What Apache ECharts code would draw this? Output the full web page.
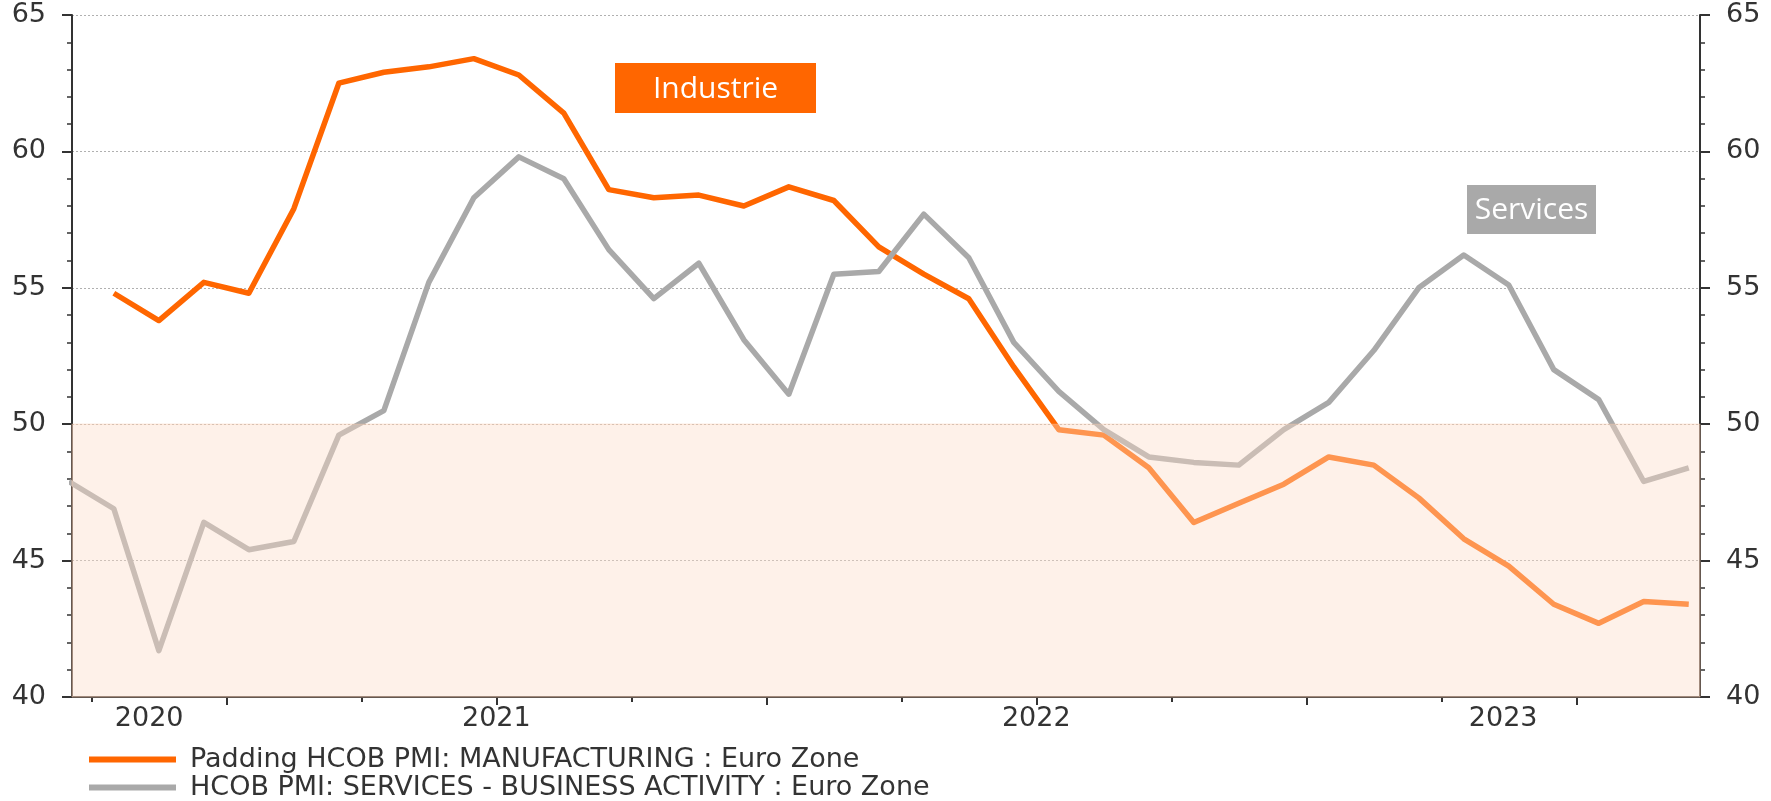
<!DOCTYPE html>
<html>
<head>
<meta charset="utf-8">
<script src="https://cdn.jsdelivr.net/npm/echarts@6/dist/echarts.min.js"></script>
<style>
html,body{margin:0;padding:0;background:#ffffff;}
#chart{width:1771px;height:801px;}
</style>
</head>
<body>
<div id="chart"></div>
<script>
// ---------- data ----------
const months = [
  '2020-09','2020-10','2020-11','2020-12',
  '2021-01','2021-02','2021-03','2021-04','2021-05','2021-06','2021-07','2021-08','2021-09','2021-10','2021-11','2021-12',
  '2022-01','2022-02','2022-03','2022-04','2022-05','2022-06','2022-07','2022-08','2022-09','2022-10','2022-11','2022-12',
  '2023-01','2023-02','2023-03','2023-04','2023-05','2023-06','2023-07','2023-08','2023-09'
];
const manufacturing = [
  null, 54.8, 53.8, 55.2,
  54.8, 57.9, 62.5, 62.9, 63.1, 63.4, 62.8, 61.4, 58.6, 58.3, 58.4, 58.0,
  58.7, 58.2, 56.5, 55.5, 54.6, 52.1, 49.8, 49.6, 48.4, 46.4, 47.1, 47.8,
  48.8, 48.5, 47.3, 45.8, 44.8, 43.4, 42.7, 43.5, 43.4
];
const services = [
  47.9, 46.9, 41.7, 46.4,
  45.4, 45.7, 49.6, 50.5, 55.2, 58.3, 59.8, 59.0, 56.4, 54.6, 55.9, 53.1,
  51.1, 55.5, 55.6, 57.7, 56.1, 53.0, 51.2, 49.8, 48.8, 48.6, 48.5, 49.8,
  50.8, 52.7, 55.0, 56.2, 55.1, 52.0, 50.9, 47.9, 48.4
];
const seriesNames = [
  'Padding HCOB PMI: MANUFACTURING : Euro Zone',
  'HCOB PMI: SERVICES - BUSINESS ACTIVITY : Euro Zone'
];
const yearLabels = ['2020', '2021', '2022', '2023'];
const yTickLabels = ['40', '45', '50', '55', '60', '65'];
const annotationTexts = ['Industrie', 'Services'];
const contractionBand = [40, 50];

// ---------- helpers ----------
const baseYear = 2020;
function monthPos(m) {
  const p = m.split('-').map(Number);
  return (p[0] - baseYear) * 12 + (p[1] - 1) + 0.5; // mid-month
}
const xMin = monthPos(months[0]) + 0.07;
const xMax = monthPos(months[months.length - 1]) + 0.25;

const manuData = months.map((m, i) => [monthPos(m), manufacturing[i]]);
const servData = months.map((m, i) => [monthPos(m), services[i]]);

const quarterTicks = [], halfYearTicks = [];
for (let v = Math.ceil(xMin / 3) * 3; v <= xMax; v += 3) {
  if (v % 6 === 0) halfYearTicks.push(v); else quarterTicks.push(v);
}
const yearLabelPos = yearLabels.map(y => {
  const s = Math.max(xMin, (Number(y) - baseYear) * 12);
  const e = Math.min(xMax, (Number(y) - baseYear + 1) * 12);
  return (s + e) / 2;
});

const AXIS_COLOR = '#333333';
const TEXT_COLOR = '#333333';
const FONT = 'DejaVu Sans';
const MANU_COLOR = '#FF6600';
const SERV_COLOR = '#A9A9A9';

const yAxisCommon = {
  type: 'value', min: 40, max: 65, interval: 5,
  axisLine: { show: true, lineStyle: { color: AXIS_COLOR, width: 2 } },
  axisTick: { show: true, inside: false, length: 10, lineStyle: { color: AXIS_COLOR, width: 2 } },
  minorTick: { show: true, splitNumber: 5, length: 5, lineStyle: { color: AXIS_COLOR, width: 1.5 } },
  axisLabel: {
    margin: 26, fontSize: 27, color: TEXT_COLOR, fontFamily: FONT,
    formatter: v => yTickLabels.indexOf(String(v)) >= 0 ? String(v) : ''
  }
};

const legendCommon = {
  orient: 'vertical', left: 89,
  icon: 'rect', itemWidth: 87, itemHeight: 6, itemGap: 0, padding: 0,
  selectedMode: false,
  textStyle: { fontSize: 27, fontFamily: FONT, color: TEXT_COLOR, padding: [0, 0, 0, 9] }
};

const chart = echarts.init(document.getElementById('chart'), null, { renderer: 'canvas' });
chart.setOption({
  animation: false,
  backgroundColor: '#ffffff',
  grid: { left: 72, right: 71, top: 15, bottom: 104, containLabel: false },
  legend: [
    Object.assign({}, legendCommon, { data: [seriesNames[0]], top: 746 }),
    Object.assign({}, legendCommon, { data: [seriesNames[1]], top: 774 })
  ],
  xAxis: [
    {
      type: 'value', min: xMin, max: xMax, position: 'bottom',
      axisLine: { show: true, onZero: false, lineStyle: { color: AXIS_COLOR, width: 2 } },
      axisTick: { show: true, length: 5, customValues: quarterTicks, lineStyle: { color: AXIS_COLOR, width: 2 } },
      axisLabel: {
        show: true, margin: 8, fontSize: 27, fontFamily: FONT, color: TEXT_COLOR,
        customValues: yearLabelPos,
        formatter: v => {
          let best = 0, d = Infinity;
          yearLabelPos.forEach((p, i) => { if (Math.abs(p - v) < d) { d = Math.abs(p - v); best = i; } });
          return yearLabels[best];
        }
      },
      splitLine: { show: false }
    },
    {
      type: 'value', min: xMin, max: xMax, position: 'bottom',
      axisLine: { show: false, onZero: false },
      axisTick: { show: true, length: 8, customValues: halfYearTicks, lineStyle: { color: AXIS_COLOR, width: 2 } },
      axisLabel: { show: false },
      splitLine: { show: false }
    }
  ],
  yAxis: [
    Object.assign({}, yAxisCommon, {
      position: 'left',
      splitLine: { show: true, lineStyle: { color: '#b0b0b0', type: [2, 2], width: 1 } }
    }),
    Object.assign({}, yAxisCommon, { position: 'right', splitLine: { show: false } })
  ],
  series: [
    {
      name: seriesNames[0], type: 'line', data: manuData, xAxisIndex: 0, yAxisIndex: 0,
      showSymbol: false, symbol: 'none', connectNulls: false, z: 3,
      color: MANU_COLOR,
      lineStyle: { color: MANU_COLOR, width: 5.5, join: 'round' }
    },
    {
      name: seriesNames[1], type: 'line', data: servData, xAxisIndex: 0, yAxisIndex: 0,
      showSymbol: false, symbol: 'none', z: 4,
      color: SERV_COLOR,
      lineStyle: { color: SERV_COLOR, width: 5.5, join: 'round' },
      markArea: {
        silent: true, z: 10,
        itemStyle: { color: 'rgba(253,220,200,0.4)', borderColor: 'rgba(252,200,170,0.5)', borderWidth: 1 },
        label: { show: false },
        data: [[{ yAxis: contractionBand[1] }, { yAxis: contractionBand[0] }]]
      }
    }
  ],
  graphic: [
    {
      type: 'group', left: 615, top: 63, z: 20,
      children: [
        { type: 'rect', shape: { x: 0, y: 0, width: 201, height: 50 }, style: { fill: MANU_COLOR } },
        { type: 'text', x: 100.5, y: 26, style: { text: annotationTexts[0], fill: '#ffffff', font: '30px "Open Sans"', align: 'center', verticalAlign: 'middle' } }
      ]
    },
    {
      type: 'group', left: 1467, top: 185, z: 20,
      children: [
        { type: 'rect', shape: { x: 0, y: 0, width: 129, height: 49 }, style: { fill: SERV_COLOR } },
        { type: 'text', x: 64.5, y: 25, style: { text: annotationTexts[1], fill: '#ffffff', font: '30px "Open Sans"', align: 'center', verticalAlign: 'middle' } }
      ]
    }
  ]
});
</script>
</body>
</html>
